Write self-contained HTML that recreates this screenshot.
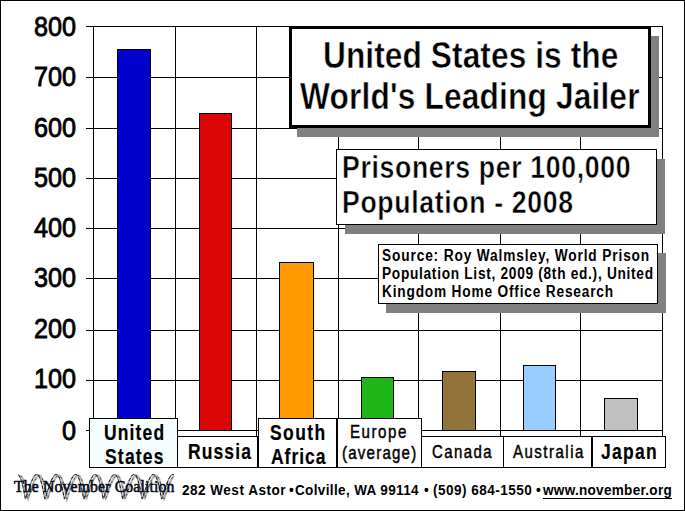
<!DOCTYPE html>
<html><head><meta charset="utf-8"><style>
html,body{margin:0;padding:0;}
body{width:685px;height:511px;position:relative;overflow:hidden;background:#fff;}
body>div,body>svg{position:absolute;box-sizing:content-box;}
</style></head><body>
<div style="left:86px;top:26px;width:577px;height:1px;background:#000"></div>
<div style="left:86px;top:77px;width:577px;height:1px;background:#000"></div>
<div style="left:86px;top:128px;width:577px;height:1px;background:#000"></div>
<div style="left:86px;top:178px;width:577px;height:1px;background:#000"></div>
<div style="left:86px;top:228px;width:577px;height:1px;background:#000"></div>
<div style="left:86px;top:278px;width:577px;height:1px;background:#000"></div>
<div style="left:86px;top:330px;width:577px;height:1px;background:#000"></div>
<div style="left:86px;top:380px;width:577px;height:1px;background:#000"></div>
<div style="left:86px;top:430px;width:577px;height:1px;background:#000"></div>
<div style="left:93px;top:26px;width:1px;height:411px;background:#000"></div>
<div style="left:175px;top:26px;width:1px;height:411px;background:#000"></div>
<div style="left:256px;top:26px;width:1px;height:411px;background:#000"></div>
<div style="left:338px;top:26px;width:1px;height:411px;background:#000"></div>
<div style="left:418px;top:26px;width:1px;height:411px;background:#000"></div>
<div style="left:500px;top:26px;width:1px;height:411px;background:#000"></div>
<div style="left:580px;top:26px;width:1px;height:411px;background:#000"></div>
<div style="left:662px;top:26px;width:1px;height:411px;background:#000"></div>
<div style="left:117px;top:49px;width:32px;height:380px;border:1px solid #000;background:#0000cc"></div>
<div style="left:199px;top:113px;width:31px;height:316px;border:1px solid #000;background:#dd0606"></div>
<div style="left:279px;top:262px;width:33px;height:167px;border:1px solid #000;background:#ff9900"></div>
<div style="left:361px;top:377px;width:31px;height:52px;border:1px solid #000;background:#20b516"></div>
<div style="left:442px;top:371px;width:32px;height:58px;border:1px solid #000;background:#92743a"></div>
<div style="left:523px;top:365px;width:31px;height:64px;border:1px solid #000;background:#99ccff"></div>
<div style="left:604px;top:398px;width:32px;height:31px;border:1px solid #000;background:#c0c0c0"></div>
<div style="left:297px;top:36px;width:362px;height:101px;background:#808080"></div>
<div style="left:289px;top:26px;width:356px;height:96px;border:3px solid #000;background:#fff"></div>
<div style="left:322.74px;top:36.50px;font-family:'Liberation Sans', sans-serif;font-size:36px;font-weight:bold;line-height:36px;white-space:nowrap;-webkit-text-stroke:0.5px #fff;transform:scale(0.8800,1.0300);transform-origin:0 0;letter-spacing:0.079px;">United States is the</div>
<div style="left:299.62px;top:78.00px;font-family:'Liberation Sans', sans-serif;font-size:36px;font-weight:bold;line-height:36px;white-space:nowrap;-webkit-text-stroke:0.5px #fff;transform:scale(0.8800,1.0300);transform-origin:0 0;letter-spacing:0.179px;">World's Leading Jailer</div>
<div style="left:345px;top:159px;width:320px;height:75px;background:#808080"></div>
<div style="left:336px;top:149px;width:319px;height:74px;border:1px solid #000;background:#fff"></div>
<div style="left:342.22px;top:152.10px;font-family:'Liberation Sans', sans-serif;font-size:31.7px;font-weight:bold;line-height:31.7px;white-space:nowrap;-webkit-text-stroke:0.5px #fff;transform:scale(0.8400,1.0000);transform-origin:0 0;letter-spacing:0.794px;">Prisoners per 100,000</div>
<div style="left:342.32px;top:187.00px;font-family:'Liberation Sans', sans-serif;font-size:31.7px;font-weight:bold;line-height:31.7px;white-space:nowrap;-webkit-text-stroke:0.5px #fff;transform:scale(0.8400,1.0000);transform-origin:0 0;letter-spacing:0.792px;">Population - 2008</div>
<div style="left:386px;top:253px;width:280px;height:60px;background:#808080"></div>
<div style="left:378px;top:244px;width:278px;height:58px;border:1px solid #000;background:#fff"></div>
<div style="left:382.04px;top:248.00px;font-family:'Liberation Sans', sans-serif;font-size:16px;font-weight:bold;line-height:16px;white-space:nowrap;transform:scale(0.8550,1.0000);transform-origin:0 0;letter-spacing:1.019px;">Source: Roy Walmsley, World Prison</div>
<div style="left:382.04px;top:265.80px;font-family:'Liberation Sans', sans-serif;font-size:16px;font-weight:bold;line-height:16px;white-space:nowrap;transform:scale(0.8550,1.0000);transform-origin:0 0;letter-spacing:0.832px;">Population List, 2009 (8th ed.), United</div>
<div style="left:382.04px;top:283.60px;font-family:'Liberation Sans', sans-serif;font-size:16px;font-weight:bold;line-height:16px;white-space:nowrap;transform:scale(0.8550,1.0000);transform-origin:0 0;letter-spacing:0.955px;">Kingdom Home Office Research</div>
<div style="left:89px;top:418px;width:87px;height:48px;border:1px solid #000;background:#f6fdff"></div>
<div style="left:177px;top:436px;width:79px;height:30px;border:1px solid #000;background:#fff"></div>
<div style="left:258px;top:418px;width:77px;height:48px;border:1px solid #000;background:#fff"></div>
<div style="left:337px;top:418px;width:83px;height:48px;border:1px solid #000;background:#fff"></div>
<div style="left:421px;top:436px;width:81px;height:30px;border:1px solid #000;background:#fff"></div>
<div style="left:503px;top:436px;width:87px;height:30px;border:1px solid #000;background:#fff"></div>
<div style="left:592px;top:436px;width:72px;height:30px;border:1px solid #000;background:#fff"></div>
<div style="left:104.08px;top:422.60px;font-family:'Liberation Sans', sans-serif;font-size:21.3px;font-weight:bold;line-height:21.3px;white-space:nowrap;-webkit-text-stroke:0.2px #000;transform:scale(0.8200,1.0000);transform-origin:0 0;letter-spacing:1.395px;">United</div>
<div style="left:105.38px;top:446.50px;font-family:'Liberation Sans', sans-serif;font-size:21.3px;font-weight:bold;line-height:21.3px;white-space:nowrap;-webkit-text-stroke:0.2px #000;transform:scale(0.8200,1.0000);transform-origin:0 0;letter-spacing:1.478px;">States</div>
<div style="left:187.98px;top:441.90px;font-family:'Liberation Sans', sans-serif;font-size:21.3px;font-weight:bold;line-height:21.3px;white-space:nowrap;-webkit-text-stroke:0.2px #000;transform:scale(0.8200,1.0000);transform-origin:0 0;letter-spacing:1.371px;">Russia</div>
<div style="left:269.98px;top:422.60px;font-family:'Liberation Sans', sans-serif;font-size:21.3px;font-weight:bold;line-height:21.3px;white-space:nowrap;-webkit-text-stroke:0.2px #000;transform:scale(0.8200,1.0000);transform-origin:0 0;letter-spacing:1.720px;">South</div>
<div style="left:271.00px;top:446.60px;font-family:'Liberation Sans', sans-serif;font-size:21.3px;font-weight:bold;line-height:21.3px;white-space:nowrap;-webkit-text-stroke:0.2px #000;transform:scale(0.8200,1.0000);transform-origin:0 0;letter-spacing:1.215px;">Africa</div>
<div style="left:350.08px;top:423.00px;font-family:'Liberation Sans', sans-serif;font-size:18.4px;font-weight:normal;line-height:18.4px;white-space:nowrap;-webkit-text-stroke:0.45px #000;transform:scale(0.8200,1.0000);transform-origin:0 0;letter-spacing:1.888px;">Europe</div>
<div style="left:342.18px;top:443.90px;font-family:'Liberation Sans', sans-serif;font-size:18.4px;font-weight:normal;line-height:18.4px;white-space:nowrap;-webkit-text-stroke:0.45px #000;transform:scale(0.8200,1.0000);transform-origin:0 0;letter-spacing:1.473px;">(average)</div>
<div style="left:432.08px;top:442.60px;font-family:'Liberation Sans', sans-serif;font-size:18.3px;font-weight:normal;line-height:18.3px;white-space:nowrap;-webkit-text-stroke:0.45px #000;transform:scale(0.8200,1.0000);transform-origin:0 0;letter-spacing:1.717px;">Canada</div>
<div style="left:512.90px;top:442.80px;font-family:'Liberation Sans', sans-serif;font-size:18.3px;font-weight:normal;line-height:18.3px;white-space:nowrap;-webkit-text-stroke:0.45px #000;transform:scale(0.8200,1.0000);transform-origin:0 0;letter-spacing:1.838px;">Australia</div>
<div style="left:601.10px;top:441.70px;font-family:'Liberation Sans', sans-serif;font-size:21.3px;font-weight:bold;line-height:21.3px;white-space:nowrap;-webkit-text-stroke:0.2px #000;transform:scale(0.8200,1.0000);transform-origin:0 0;letter-spacing:1.549px;">Japan</div>
<div style="left:33.90px;top:12.55px;font-family:'Liberation Sans', sans-serif;font-size:28.0px;font-weight:normal;line-height:28.0px;white-space:nowrap;-webkit-text-stroke:0.85px #000;transform:scaleX(0.9000);transform-origin:0 0;">800</div>
<div style="left:33.90px;top:62.50px;font-family:'Liberation Sans', sans-serif;font-size:28.0px;font-weight:normal;line-height:28.0px;white-space:nowrap;-webkit-text-stroke:0.85px #000;transform:scaleX(0.9000);transform-origin:0 0;">700</div>
<div style="left:33.90px;top:113.50px;font-family:'Liberation Sans', sans-serif;font-size:28.0px;font-weight:normal;line-height:28.0px;white-space:nowrap;-webkit-text-stroke:0.85px #000;transform:scaleX(0.9000);transform-origin:0 0;">600</div>
<div style="left:33.90px;top:164.40px;font-family:'Liberation Sans', sans-serif;font-size:28.0px;font-weight:normal;line-height:28.0px;white-space:nowrap;-webkit-text-stroke:0.85px #000;transform:scaleX(0.9000);transform-origin:0 0;">500</div>
<div style="left:33.90px;top:214.30px;font-family:'Liberation Sans', sans-serif;font-size:28.0px;font-weight:normal;line-height:28.0px;white-space:nowrap;-webkit-text-stroke:0.85px #000;transform:scaleX(0.9000);transform-origin:0 0;">400</div>
<div style="left:33.90px;top:264.25px;font-family:'Liberation Sans', sans-serif;font-size:28.0px;font-weight:normal;line-height:28.0px;white-space:nowrap;-webkit-text-stroke:0.85px #000;transform:scaleX(0.9000);transform-origin:0 0;">300</div>
<div style="left:33.90px;top:314.90px;font-family:'Liberation Sans', sans-serif;font-size:28.0px;font-weight:normal;line-height:28.0px;white-space:nowrap;-webkit-text-stroke:0.85px #000;transform:scaleX(0.9000);transform-origin:0 0;">200</div>
<div style="left:33.90px;top:365.40px;font-family:'Liberation Sans', sans-serif;font-size:28.0px;font-weight:normal;line-height:28.0px;white-space:nowrap;-webkit-text-stroke:0.85px #000;transform:scaleX(0.9000);transform-origin:0 0;">100</div>
<div style="left:61.80px;top:416.80px;font-family:'Liberation Sans', sans-serif;font-size:28.0px;font-weight:normal;line-height:28.0px;white-space:nowrap;-webkit-text-stroke:0.85px #000;transform:scaleX(0.9000);transform-origin:0 0;">0</div>
<div style="left:181.80px;top:483.00px;font-family:'Liberation Sans', sans-serif;font-size:14.1px;font-weight:bold;line-height:14.1px;white-space:nowrap;transform:scale(0.9600,1.0000);transform-origin:0 0;letter-spacing:0.516px;">282 West Astor</div>
<div style="left:288.90px;top:483.00px;font-family:'Liberation Sans', sans-serif;font-size:14.1px;font-weight:bold;line-height:14.1px;white-space:nowrap;transform:scale(0.9600,1.0000);transform-origin:0 0;letter-spacing:0.000px;">&bull;</div>
<div style="left:294.74px;top:483.00px;font-family:'Liberation Sans', sans-serif;font-size:14.1px;font-weight:bold;line-height:14.1px;white-space:nowrap;transform:scale(0.9600,1.0000);transform-origin:0 0;letter-spacing:0.366px;">Colville, WA 99114</div>
<div style="left:424.00px;top:483.00px;font-family:'Liberation Sans', sans-serif;font-size:14.1px;font-weight:bold;line-height:14.1px;white-space:nowrap;transform:scale(0.9600,1.0000);transform-origin:0 0;letter-spacing:0.000px;">&bull;</div>
<div style="left:432.64px;top:483.00px;font-family:'Liberation Sans', sans-serif;font-size:14.1px;font-weight:bold;line-height:14.1px;white-space:nowrap;transform:scale(0.9600,1.0000);transform-origin:0 0;letter-spacing:0.505px;">(509) 684-1550</div>
<div style="left:535.70px;top:483.00px;font-family:'Liberation Sans', sans-serif;font-size:14.1px;font-weight:bold;line-height:14.1px;white-space:nowrap;transform:scale(0.9600,1.0000);transform-origin:0 0;letter-spacing:0.000px;">&bull;</div>
<div style="left:542.80px;top:483.00px;font-family:'Liberation Sans', sans-serif;font-size:14.1px;font-weight:bold;line-height:14.1px;white-space:nowrap;transform:scale(0.9600,1.0000);transform-origin:0 0;letter-spacing:0.306px;"><u style="text-underline-offset:3px">www.november.org</u></div>
<svg style="left:0;top:0" width="685" height="511" viewBox="0 0 685 511"><path d="M20.6,475.8 L21.0,476.1 L21.4,476.4 L21.7,476.9 L22.1,477.4 L22.4,478.0 L22.8,478.7 L23.1,479.5 L23.4,480.3 L23.8,481.3 L24.1,482.3 L24.4,483.3 L24.7,484.4 L25.0,485.6 L25.4,486.8 L25.7,488.1 L26.0,489.4 L26.3,490.7 L26.6,492.1 L26.9,493.5 L27.2,495.0 L27.5,496.4 L27.8,497.9 L28.1,498.7 L28.6,497.2 L29.0,495.8 L29.5,494.3 L30.0,492.9 L30.5,491.5 L30.9,490.2 L31.4,488.8 L31.8,487.5 L32.3,486.3 L32.8,485.1 L33.2,483.9 L33.7,482.8 L34.1,481.8 L34.5,480.9 L35.0,480.0 L35.4,479.1 L35.8,478.4 L36.3,477.7 L36.7,477.2 L37.1,476.7 L37.5,476.3 L37.9,475.9 L38.3,475.7 L38.7,475.6 L39.1,475.5 L39.5,475.5 L39.9,475.7 L40.2,475.9 L40.6,476.2 L41.0,476.6 L41.3,477.1 L41.7,477.6 L42.0,478.3 L42.3,479.0 L42.7,479.8 L43.0,480.7 L43.3,481.6 L43.7,482.6 L44.0,483.7 L44.3,484.8 L44.6,486.0 L44.9,487.3 L45.2,488.6 L45.5,489.9 L45.8,491.2 L46.1,492.6 L46.4,494.1 L46.7,495.5 L47.0,496.9 L47.3,498.4 L47.7,498.2 L48.2,496.7 L48.7,495.3 L49.1,493.8 L49.6,492.4 L50.1,491.0 L50.5,489.7 L51.0,488.3 L51.5,487.1 L51.9,485.8 L52.4,484.7 L52.8,483.5 L53.3,482.5 L53.7,481.5 L54.2,480.5 L54.6,479.7 L55.0,478.9 L55.5,478.2 L55.9,477.5 L56.3,477.0 L56.7,476.5 L57.1,476.1 L57.5,475.8 L57.9,475.6 L58.3,475.5 L58.7,475.5 L59.1,475.6 L59.4,475.7 L59.8,476.0 L60.2,476.3 L60.5,476.7 L60.9,477.3 L61.2,477.8 L61.6,478.5 L61.9,479.3 L62.3,480.1 L62.6,481.0 L62.9,482.0 L63.2,483.0 L63.5,484.1 L63.9,485.3 L64.2,486.5 L64.5,487.7 L64.8,489.0 L65.1,490.4 L65.4,491.8 L65.7,493.2 L66.0,494.6 L66.3,496.0 L66.6,497.5 L66.9,498.9 L67.3,497.6 L67.8,496.2 L68.3,494.7 L68.8,493.3 L69.2,491.9 L69.7,490.5 L70.2,489.2 L70.6,487.9 L71.1,486.6 L71.5,485.4 L72.0,484.2 L72.4,483.1 L72.9,482.1 L73.3,481.1 L73.8,480.2 L74.2,479.4 L74.6,478.6 L75.1,477.9 L75.5,477.3 L75.9,476.8 L76.3,476.4 L76.7,476.0 L77.1,475.8 L77.5,475.6 L77.9,475.5 L78.3,475.5 L78.7,475.6 L79.0,475.8 L79.4,476.1 L79.8,476.5 L80.1,476.9 L80.5,477.5 L80.8,478.1 L81.2,478.8 L81.5,479.6 L81.8,480.4 L82.2,481.4 L82.5,482.4 L82.8,483.4 L83.1,484.5 L83.4,485.7 L83.7,486.9 L84.0,488.2 L84.4,489.5 L84.7,490.9 L85.0,492.3 L85.3,493.7 L85.6,495.1 L85.9,496.5 L86.1,498.0 L86.5,498.5 L87.0,497.1 L87.4,495.6 L87.9,494.2 L88.4,492.8 L88.8,491.4 L89.3,490.0 L89.8,488.7 L90.2,487.4 L90.7,486.2 L91.2,485.0 L91.6,483.8 L92.1,482.7 L92.5,481.7 L92.9,480.8 L93.4,479.9 L93.8,479.1 L94.2,478.3 L94.7,477.7 L95.1,477.1 L95.5,476.6 L95.9,476.2 L96.3,475.9 L96.7,475.7 L97.1,475.5 L97.5,475.5 L97.9,475.5 L98.2,475.7 L98.6,475.9 L99.0,476.2 L99.3,476.6 L99.7,477.1 L100.0,477.7 L100.4,478.3 L100.7,479.1 L101.1,479.9 L101.4,480.8 L101.7,481.7 L102.0,482.7 L102.4,483.8 L102.7,485.0 L103.0,486.2 L103.3,487.4 L103.6,488.7 L103.9,490.0 L104.2,491.4 L104.5,492.8 L104.8,494.2 L105.1,495.6 L105.4,497.1 L105.7,498.5 L106.1,498.0 L106.6,496.5 L107.1,495.1 L107.5,493.7 L108.0,492.3 L108.5,490.9 L108.9,489.5 L109.4,488.2 L109.9,486.9 L110.3,485.7 L110.8,484.5 L111.2,483.4 L111.7,482.4 L112.1,481.4 L112.6,480.4 L113.0,479.6 L113.4,478.8 L113.8,478.1 L114.3,477.5 L114.7,476.9 L115.1,476.5 L115.5,476.1 L115.9,475.8 L116.3,475.6 L116.7,475.5 L117.1,475.5 L117.5,475.6 L117.8,475.8 L118.2,476.0 L118.6,476.4 L118.9,476.8 L119.3,477.3 L119.6,477.9 L120.0,478.6 L120.3,479.4 L120.6,480.2 L121.0,481.1 L121.3,482.1 L121.6,483.1 L121.9,484.2 L122.2,485.4 L122.6,486.6 L122.9,487.9 L123.2,489.2 L123.5,490.5 L123.8,491.9 L124.1,493.3 L124.4,494.7 L124.7,496.2 L125.0,497.6 L125.3,498.9 L125.7,497.5 L126.2,496.0 L126.7,494.6 L127.2,493.2 L127.6,491.8 L128.1,490.4 L128.6,489.0 L129.0,487.7 L129.5,486.5 L129.9,485.3 L130.4,484.1 L130.8,483.0 L131.3,482.0 L131.7,481.0 L132.2,480.1 L132.6,479.3 L133.0,478.5 L133.5,477.8 L133.9,477.3 L134.3,476.7 L134.7,476.3 L135.1,476.0 L135.5,475.7 L135.9,475.6 L136.3,475.5 L136.7,475.5 L137.0,475.6 L137.4,475.8 L137.8,476.1 L138.1,476.5 L138.5,477.0 L138.9,477.5 L139.2,478.2 L139.5,478.9 L139.9,479.7 L140.2,480.5 L140.5,481.5 L140.9,482.5 L141.2,483.5 L141.5,484.7 L141.8,485.8 L142.1,487.1 L142.4,488.3 L142.7,489.7 L143.0,491.0 L143.3,492.4 L143.6,493.8 L143.9,495.3 L144.2,496.7 L144.5,498.2 L144.9,498.4 L145.4,496.9 L145.8,495.5 L146.3,494.1 L146.8,492.6 L147.2,491.2 L147.7,489.9 L148.2,488.6 L148.6,487.3 L149.1,486.0 L149.6,484.8 L150.0,483.7 L150.5,482.6 L150.9,481.6 L151.3,480.7 L151.8,479.8 L152.2,479.0 L152.6,478.3 L153.1,477.6 L153.5,477.1 L153.9,476.6 L154.3,476.2 L154.7,475.9 L155.1,475.7 L155.5,475.5 L155.9,475.5 L156.3,475.6 L156.6,475.7 L157.0,475.9 L157.4,476.3 L157.7,476.7 L158.1,477.2 L158.4,477.7 L158.8,478.4 L159.1,479.1 L159.4,480.0 L159.8,480.9 L160.1,481.8 L160.4,482.8 L160.7,483.9 L161.1,485.1 L161.4,486.3 L161.7,487.5 L162.0,488.8 L162.3,490.2 L162.6,491.5 L162.9,492.9 L163.2,494.3 L163.5,495.8 L163.8,497.2 L164.1,498.7 L164.5,497.9 L165.0,496.4 L165.5,495.0 L165.9,493.5 L166.4,492.1 L166.9,490.7 L167.3,489.4 L167.8,488.1 L168.3,486.8 L168.7,485.6 L169.2,484.4 L169.6,483.3 L170.1,482.3 L170.5,481.3 L170.9,480.3 L171.4,479.5 L171.8,478.7 L172.2,478.0 L172.7,477.4 L173.1,476.9 L173.5,476.4 L173.9,476.1 L174.3,475.8" fill="none" stroke="#b8b8b8" stroke-width="2.2"/><path d="M18.2,474.8 L18.6,475.1 L19.0,475.5 L19.3,476.0 L19.7,476.6 L20.0,477.2 L20.4,478.0 L20.7,478.8 L21.0,479.7 L21.4,480.7 L21.7,481.8 L22.0,483.0 L22.3,484.2 L22.6,485.4 L23.0,486.8 L23.3,488.2 L23.6,489.6 L23.9,491.0 L24.2,492.5 L24.5,494.0 L24.8,495.6 L25.1,497.1 L25.4,498.7 L25.7,498.7 L26.2,497.1 L26.7,495.6 L27.2,494.0 L27.7,492.5 L28.1,491.0 L28.6,489.6 L29.1,488.2 L29.6,486.8 L30.0,485.4 L30.5,484.2 L31.0,483.0 L31.4,481.8 L31.9,480.7 L32.3,479.7 L32.8,478.8 L33.2,478.0 L33.6,477.2 L34.1,476.6 L34.5,476.0 L34.9,475.5 L35.3,475.1 L35.7,474.8 L36.1,474.6 L36.5,474.5 L36.9,474.5 L37.3,474.6 L37.7,474.8 L38.1,475.1 L38.4,475.5 L38.8,476.0 L39.1,476.6 L39.5,477.2 L39.8,478.0 L40.2,478.8 L40.5,479.7 L40.8,480.7 L41.1,481.8 L41.5,483.0 L41.8,484.2 L42.1,485.4 L42.4,486.8 L42.7,488.2 L43.0,489.6 L43.3,491.0 L43.6,492.5 L43.9,494.0 L44.2,495.6 L44.5,497.1 L44.8,498.7 L45.2,498.7 L45.7,497.1 L46.2,495.6 L46.6,494.0 L47.1,492.5 L47.6,491.0 L48.1,489.6 L48.5,488.2 L49.0,486.8 L49.5,485.4 L50.0,484.2 L50.4,483.0 L50.9,481.8 L51.3,480.7 L51.8,479.7 L52.2,478.8 L52.7,478.0 L53.1,477.2 L53.5,476.6 L53.9,476.0 L54.4,475.5 L54.8,475.1 L55.2,474.8 L55.6,474.6 L56.0,474.5 L56.4,474.5 L56.8,474.6 L57.1,474.8 L57.5,475.1 L57.9,475.5 L58.2,476.0 L58.6,476.6 L58.9,477.2 L59.3,478.0 L59.6,478.8 L59.9,479.7 L60.3,480.7 L60.6,481.8 L60.9,483.0 L61.2,484.2 L61.5,485.4 L61.9,486.8 L62.2,488.2 L62.5,489.6 L62.8,491.0 L63.1,492.5 L63.4,494.0 L63.7,495.6 L64.0,497.1 L64.3,498.7 L64.6,498.7 L65.1,497.1 L65.6,495.6 L66.1,494.0 L66.6,492.5 L67.0,491.0 L67.5,489.6 L68.0,488.2 L68.5,486.8 L68.9,485.4 L69.4,484.2 L69.9,483.0 L70.3,481.8 L70.8,480.7 L71.2,479.7 L71.7,478.8 L72.1,478.0 L72.5,477.2 L73.0,476.6 L73.4,476.0 L73.8,475.5 L74.2,475.1 L74.6,474.8 L75.0,474.6 L75.4,474.5 L75.8,474.5 L76.2,474.6 L76.6,474.8 L77.0,475.1 L77.3,475.5 L77.7,476.0 L78.0,476.6 L78.4,477.2 L78.7,478.0 L79.1,478.8 L79.4,479.7 L79.7,480.7 L80.0,481.8 L80.4,483.0 L80.7,484.2 L81.0,485.4 L81.3,486.8 L81.6,488.2 L81.9,489.6 L82.2,491.0 L82.5,492.5 L82.8,494.0 L83.1,495.6 L83.4,497.1 L83.7,498.7 L84.1,498.7 L84.6,497.1 L85.1,495.6 L85.5,494.0 L86.0,492.5 L86.5,491.0 L87.0,489.6 L87.4,488.2 L87.9,486.8 L88.4,485.4 L88.9,484.2 L89.3,483.0 L89.8,481.8 L90.2,480.7 L90.7,479.7 L91.1,478.8 L91.6,478.0 L92.0,477.2 L92.4,476.6 L92.8,476.0 L93.3,475.5 L93.7,475.1 L94.1,474.8 L94.5,474.6 L94.9,474.5 L95.3,474.5 L95.7,474.6 L96.0,474.8 L96.4,475.1 L96.8,475.5 L97.1,476.0 L97.5,476.6 L97.8,477.2 L98.2,478.0 L98.5,478.8 L98.8,479.7 L99.2,480.7 L99.5,481.8 L99.8,483.0 L100.1,484.2 L100.4,485.4 L100.8,486.8 L101.1,488.2 L101.4,489.6 L101.7,491.0 L102.0,492.5 L102.3,494.0 L102.6,495.6 L102.9,497.1 L103.2,498.7 L103.5,498.7 L104.0,497.1 L104.5,495.6 L105.0,494.0 L105.5,492.5 L105.9,491.0 L106.4,489.6 L106.9,488.2 L107.4,486.8 L107.8,485.4 L108.3,484.2 L108.8,483.0 L109.2,481.8 L109.7,480.7 L110.1,479.7 L110.6,478.8 L111.0,478.0 L111.4,477.2 L111.9,476.6 L112.3,476.0 L112.7,475.5 L113.1,475.1 L113.5,474.8 L113.9,474.6 L114.3,474.5 L114.7,474.5 L115.1,474.6 L115.5,474.8 L115.9,475.1 L116.2,475.5 L116.6,476.0 L116.9,476.6 L117.3,477.2 L117.6,478.0 L118.0,478.8 L118.3,479.7 L118.6,480.7 L118.9,481.8 L119.3,483.0 L119.6,484.2 L119.9,485.4 L120.2,486.8 L120.5,488.2 L120.8,489.6 L121.1,491.0 L121.4,492.5 L121.7,494.0 L122.0,495.6 L122.3,497.1 L122.6,498.7 L123.0,498.7 L123.5,497.1 L124.0,495.6 L124.4,494.0 L124.9,492.5 L125.4,491.0 L125.9,489.6 L126.3,488.2 L126.8,486.8 L127.3,485.4 L127.8,484.2 L128.2,483.0 L128.7,481.8 L129.1,480.7 L129.6,479.7 L130.0,478.8 L130.5,478.0 L130.9,477.2 L131.3,476.6 L131.7,476.0 L132.2,475.5 L132.6,475.1 L133.0,474.8 L133.4,474.6 L133.8,474.5 L134.2,474.5 L134.6,474.6 L134.9,474.8 L135.3,475.1 L135.7,475.5 L136.0,476.0 L136.4,476.6 L136.7,477.2 L137.1,478.0 L137.4,478.8 L137.7,479.7 L138.1,480.7 L138.4,481.8 L138.7,483.0 L139.0,484.2 L139.3,485.4 L139.7,486.8 L140.0,488.2 L140.3,489.6 L140.6,491.0 L140.9,492.5 L141.2,494.0 L141.5,495.6 L141.8,497.1 L142.1,498.7 L142.4,498.7 L142.9,497.1 L143.4,495.6 L143.9,494.0 L144.4,492.5 L144.8,491.0 L145.3,489.6 L145.8,488.2 L146.3,486.8 L146.7,485.4 L147.2,484.2 L147.7,483.0 L148.1,481.8 L148.6,480.7 L149.0,479.7 L149.5,478.8 L149.9,478.0 L150.3,477.2 L150.8,476.6 L151.2,476.0 L151.6,475.5 L152.0,475.1 L152.4,474.8 L152.8,474.6 L153.2,474.5 L153.6,474.5 L154.0,474.6 L154.4,474.8 L154.8,475.1 L155.1,475.5 L155.5,476.0 L155.8,476.6 L156.2,477.2 L156.5,478.0 L156.9,478.8 L157.2,479.7 L157.5,480.7 L157.8,481.8 L158.2,483.0 L158.5,484.2 L158.8,485.4 L159.1,486.8 L159.4,488.2 L159.7,489.6 L160.0,491.0 L160.3,492.5 L160.6,494.0 L160.9,495.6 L161.2,497.1 L161.5,498.7 L161.9,498.7 L162.4,497.1 L162.9,495.6 L163.3,494.0 L163.8,492.5 L164.3,491.0 L164.8,489.6 L165.2,488.2 L165.7,486.8 L166.2,485.4 L166.7,484.2 L167.1,483.0 L167.6,481.8 L168.0,480.7 L168.5,479.7 L168.9,478.8 L169.4,478.0 L169.8,477.2 L170.2,476.6 L170.6,476.0 L171.1,475.5 L171.5,475.1 L171.9,474.8 L172.3,474.6 L172.7,474.5 L173.1,474.5 L173.5,474.6 L173.8,474.8" fill="none" stroke="#8a8a8a" stroke-width="1.2"/><path d="M18.2,474.8 L18.6,475.1 L19.0,475.5 L19.3,476.0 L19.7,476.6 L20.0,477.2 L20.4,478.0 L20.7,478.8 L21.0,479.7 L21.4,480.7 L21.7,481.8 L22.0,483.0 L22.3,484.2 L22.6,485.4 L23.0,486.8 L23.3,488.2 L23.6,489.6 L23.9,491.0 L24.2,492.5 L24.5,494.0 L24.8,495.6 L25.1,497.1 L25.4,498.7 L25.7,498.7 L26.2,497.1 L26.7,495.6 L27.2,494.0 L27.7,492.5 L28.1,491.0 L28.6,489.6 L29.1,488.2 L29.6,486.8 L30.0,485.4 L30.5,484.2 L31.0,483.0 L31.4,481.8 L31.9,480.7 L32.3,479.7 L32.8,478.8 L33.2,478.0 L33.6,477.2 L34.1,476.6 L34.5,476.0 L34.9,475.5 L35.3,475.1 L35.7,474.8 L36.1,474.6 L36.5,474.5 L36.9,474.5 L37.3,474.6 L37.7,474.8 L38.1,475.1 L38.4,475.5 L38.8,476.0 L39.1,476.6 L39.5,477.2 L39.8,478.0 L40.2,478.8 L40.5,479.7 L40.8,480.7 L41.1,481.8 L41.5,483.0 L41.8,484.2 L42.1,485.4 L42.4,486.8 L42.7,488.2 L43.0,489.6 L43.3,491.0 L43.6,492.5 L43.9,494.0 L44.2,495.6 L44.5,497.1 L44.8,498.7 L45.2,498.7 L45.7,497.1 L46.2,495.6 L46.6,494.0 L47.1,492.5 L47.6,491.0 L48.1,489.6 L48.5,488.2 L49.0,486.8 L49.5,485.4 L50.0,484.2 L50.4,483.0 L50.9,481.8 L51.3,480.7 L51.8,479.7 L52.2,478.8 L52.7,478.0 L53.1,477.2 L53.5,476.6 L53.9,476.0 L54.4,475.5 L54.8,475.1 L55.2,474.8 L55.6,474.6 L56.0,474.5 L56.4,474.5 L56.8,474.6 L57.1,474.8 L57.5,475.1 L57.9,475.5 L58.2,476.0 L58.6,476.6 L58.9,477.2 L59.3,478.0 L59.6,478.8 L59.9,479.7 L60.3,480.7 L60.6,481.8 L60.9,483.0 L61.2,484.2 L61.5,485.4 L61.9,486.8 L62.2,488.2 L62.5,489.6 L62.8,491.0 L63.1,492.5 L63.4,494.0 L63.7,495.6 L64.0,497.1 L64.3,498.7 L64.6,498.7 L65.1,497.1 L65.6,495.6 L66.1,494.0 L66.6,492.5 L67.0,491.0 L67.5,489.6 L68.0,488.2 L68.5,486.8 L68.9,485.4 L69.4,484.2 L69.9,483.0 L70.3,481.8 L70.8,480.7 L71.2,479.7 L71.7,478.8 L72.1,478.0 L72.5,477.2 L73.0,476.6 L73.4,476.0 L73.8,475.5 L74.2,475.1 L74.6,474.8 L75.0,474.6 L75.4,474.5 L75.8,474.5 L76.2,474.6 L76.6,474.8 L77.0,475.1 L77.3,475.5 L77.7,476.0 L78.0,476.6 L78.4,477.2 L78.7,478.0 L79.1,478.8 L79.4,479.7 L79.7,480.7 L80.0,481.8 L80.4,483.0 L80.7,484.2 L81.0,485.4 L81.3,486.8 L81.6,488.2 L81.9,489.6 L82.2,491.0 L82.5,492.5 L82.8,494.0 L83.1,495.6 L83.4,497.1 L83.7,498.7 L84.1,498.7 L84.6,497.1 L85.1,495.6 L85.5,494.0 L86.0,492.5 L86.5,491.0 L87.0,489.6 L87.4,488.2 L87.9,486.8 L88.4,485.4 L88.9,484.2 L89.3,483.0 L89.8,481.8 L90.2,480.7 L90.7,479.7 L91.1,478.8 L91.6,478.0 L92.0,477.2 L92.4,476.6 L92.8,476.0 L93.3,475.5 L93.7,475.1 L94.1,474.8 L94.5,474.6 L94.9,474.5 L95.3,474.5 L95.7,474.6 L96.0,474.8 L96.4,475.1 L96.8,475.5 L97.1,476.0 L97.5,476.6 L97.8,477.2 L98.2,478.0 L98.5,478.8 L98.8,479.7 L99.2,480.7 L99.5,481.8 L99.8,483.0 L100.1,484.2 L100.4,485.4 L100.8,486.8 L101.1,488.2 L101.4,489.6 L101.7,491.0 L102.0,492.5 L102.3,494.0 L102.6,495.6 L102.9,497.1 L103.2,498.7 L103.5,498.7 L104.0,497.1 L104.5,495.6 L105.0,494.0 L105.5,492.5 L105.9,491.0 L106.4,489.6 L106.9,488.2 L107.4,486.8 L107.8,485.4 L108.3,484.2 L108.8,483.0 L109.2,481.8 L109.7,480.7 L110.1,479.7 L110.6,478.8 L111.0,478.0 L111.4,477.2 L111.9,476.6 L112.3,476.0 L112.7,475.5 L113.1,475.1 L113.5,474.8 L113.9,474.6 L114.3,474.5 L114.7,474.5 L115.1,474.6 L115.5,474.8 L115.9,475.1 L116.2,475.5 L116.6,476.0 L116.9,476.6 L117.3,477.2 L117.6,478.0 L118.0,478.8 L118.3,479.7 L118.6,480.7 L118.9,481.8 L119.3,483.0 L119.6,484.2 L119.9,485.4 L120.2,486.8 L120.5,488.2 L120.8,489.6 L121.1,491.0 L121.4,492.5 L121.7,494.0 L122.0,495.6 L122.3,497.1 L122.6,498.7 L123.0,498.7 L123.5,497.1 L124.0,495.6 L124.4,494.0 L124.9,492.5 L125.4,491.0 L125.9,489.6 L126.3,488.2 L126.8,486.8 L127.3,485.4 L127.8,484.2 L128.2,483.0 L128.7,481.8 L129.1,480.7 L129.6,479.7 L130.0,478.8 L130.5,478.0 L130.9,477.2 L131.3,476.6 L131.7,476.0 L132.2,475.5 L132.6,475.1 L133.0,474.8 L133.4,474.6 L133.8,474.5 L134.2,474.5 L134.6,474.6 L134.9,474.8 L135.3,475.1 L135.7,475.5 L136.0,476.0 L136.4,476.6 L136.7,477.2 L137.1,478.0 L137.4,478.8 L137.7,479.7 L138.1,480.7 L138.4,481.8 L138.7,483.0 L139.0,484.2 L139.3,485.4 L139.7,486.8 L140.0,488.2 L140.3,489.6 L140.6,491.0 L140.9,492.5 L141.2,494.0 L141.5,495.6 L141.8,497.1 L142.1,498.7 L142.4,498.7 L142.9,497.1 L143.4,495.6 L143.9,494.0 L144.4,492.5 L144.8,491.0 L145.3,489.6 L145.8,488.2 L146.3,486.8 L146.7,485.4 L147.2,484.2 L147.7,483.0 L148.1,481.8 L148.6,480.7 L149.0,479.7 L149.5,478.8 L149.9,478.0 L150.3,477.2 L150.8,476.6 L151.2,476.0 L151.6,475.5 L152.0,475.1 L152.4,474.8 L152.8,474.6 L153.2,474.5 L153.6,474.5 L154.0,474.6 L154.4,474.8 L154.8,475.1 L155.1,475.5 L155.5,476.0 L155.8,476.6 L156.2,477.2 L156.5,478.0 L156.9,478.8 L157.2,479.7 L157.5,480.7 L157.8,481.8 L158.2,483.0 L158.5,484.2 L158.8,485.4 L159.1,486.8 L159.4,488.2 L159.7,489.6 L160.0,491.0 L160.3,492.5 L160.6,494.0 L160.9,495.6 L161.2,497.1 L161.5,498.7 L161.9,498.7 L162.4,497.1 L162.9,495.6 L163.3,494.0 L163.8,492.5 L164.3,491.0 L164.8,489.6 L165.2,488.2 L165.7,486.8 L166.2,485.4 L166.7,484.2 L167.1,483.0 L167.6,481.8 L168.0,480.7 L168.5,479.7 L168.9,478.8 L169.4,478.0 L169.8,477.2 L170.2,476.6 L170.6,476.0 L171.1,475.5 L171.5,475.1 L171.9,474.8 L172.3,474.6 L172.7,474.5 L173.1,474.5 L173.5,474.6 L173.8,474.8" fill="none" stroke="#111" stroke-width="1.0" stroke-dasharray="3 2.5"/><path d="M20.6,475.8 L21.0,476.1 L21.4,476.4 L21.7,476.9 L22.1,477.4 L22.4,478.0 L22.8,478.7 L23.1,479.5 L23.4,480.3 L23.8,481.3 L24.1,482.3 L24.4,483.3 L24.7,484.4 L25.0,485.6 L25.4,486.8 L25.7,488.1 L26.0,489.4 L26.3,490.7 L26.6,492.1 L26.9,493.5 L27.2,495.0 L27.5,496.4 L27.8,497.9 L28.1,498.7 L28.6,497.2 L29.0,495.8 L29.5,494.3 L30.0,492.9 L30.5,491.5 L30.9,490.2 L31.4,488.8 L31.8,487.5 L32.3,486.3 L32.8,485.1 L33.2,483.9 L33.7,482.8 L34.1,481.8 L34.5,480.9 L35.0,480.0 L35.4,479.1 L35.8,478.4 L36.3,477.7 L36.7,477.2 L37.1,476.7 L37.5,476.3 L37.9,475.9 L38.3,475.7 L38.7,475.6 L39.1,475.5 L39.5,475.5 L39.9,475.7 L40.2,475.9 L40.6,476.2 L41.0,476.6 L41.3,477.1 L41.7,477.6 L42.0,478.3 L42.3,479.0 L42.7,479.8 L43.0,480.7 L43.3,481.6 L43.7,482.6 L44.0,483.7 L44.3,484.8 L44.6,486.0 L44.9,487.3 L45.2,488.6 L45.5,489.9 L45.8,491.2 L46.1,492.6 L46.4,494.1 L46.7,495.5 L47.0,496.9 L47.3,498.4 L47.7,498.2 L48.2,496.7 L48.7,495.3 L49.1,493.8 L49.6,492.4 L50.1,491.0 L50.5,489.7 L51.0,488.3 L51.5,487.1 L51.9,485.8 L52.4,484.7 L52.8,483.5 L53.3,482.5 L53.7,481.5 L54.2,480.5 L54.6,479.7 L55.0,478.9 L55.5,478.2 L55.9,477.5 L56.3,477.0 L56.7,476.5 L57.1,476.1 L57.5,475.8 L57.9,475.6 L58.3,475.5 L58.7,475.5 L59.1,475.6 L59.4,475.7 L59.8,476.0 L60.2,476.3 L60.5,476.7 L60.9,477.3 L61.2,477.8 L61.6,478.5 L61.9,479.3 L62.3,480.1 L62.6,481.0 L62.9,482.0 L63.2,483.0 L63.5,484.1 L63.9,485.3 L64.2,486.5 L64.5,487.7 L64.8,489.0 L65.1,490.4 L65.4,491.8 L65.7,493.2 L66.0,494.6 L66.3,496.0 L66.6,497.5 L66.9,498.9 L67.3,497.6 L67.8,496.2 L68.3,494.7 L68.8,493.3 L69.2,491.9 L69.7,490.5 L70.2,489.2 L70.6,487.9 L71.1,486.6 L71.5,485.4 L72.0,484.2 L72.4,483.1 L72.9,482.1 L73.3,481.1 L73.8,480.2 L74.2,479.4 L74.6,478.6 L75.1,477.9 L75.5,477.3 L75.9,476.8 L76.3,476.4 L76.7,476.0 L77.1,475.8 L77.5,475.6 L77.9,475.5 L78.3,475.5 L78.7,475.6 L79.0,475.8 L79.4,476.1 L79.8,476.5 L80.1,476.9 L80.5,477.5 L80.8,478.1 L81.2,478.8 L81.5,479.6 L81.8,480.4 L82.2,481.4 L82.5,482.4 L82.8,483.4 L83.1,484.5 L83.4,485.7 L83.7,486.9 L84.0,488.2 L84.4,489.5 L84.7,490.9 L85.0,492.3 L85.3,493.7 L85.6,495.1 L85.9,496.5 L86.1,498.0 L86.5,498.5 L87.0,497.1 L87.4,495.6 L87.9,494.2 L88.4,492.8 L88.8,491.4 L89.3,490.0 L89.8,488.7 L90.2,487.4 L90.7,486.2 L91.2,485.0 L91.6,483.8 L92.1,482.7 L92.5,481.7 L92.9,480.8 L93.4,479.9 L93.8,479.1 L94.2,478.3 L94.7,477.7 L95.1,477.1 L95.5,476.6 L95.9,476.2 L96.3,475.9 L96.7,475.7 L97.1,475.5 L97.5,475.5 L97.9,475.5 L98.2,475.7 L98.6,475.9 L99.0,476.2 L99.3,476.6 L99.7,477.1 L100.0,477.7 L100.4,478.3 L100.7,479.1 L101.1,479.9 L101.4,480.8 L101.7,481.7 L102.0,482.7 L102.4,483.8 L102.7,485.0 L103.0,486.2 L103.3,487.4 L103.6,488.7 L103.9,490.0 L104.2,491.4 L104.5,492.8 L104.8,494.2 L105.1,495.6 L105.4,497.1 L105.7,498.5 L106.1,498.0 L106.6,496.5 L107.1,495.1 L107.5,493.7 L108.0,492.3 L108.5,490.9 L108.9,489.5 L109.4,488.2 L109.9,486.9 L110.3,485.7 L110.8,484.5 L111.2,483.4 L111.7,482.4 L112.1,481.4 L112.6,480.4 L113.0,479.6 L113.4,478.8 L113.8,478.1 L114.3,477.5 L114.7,476.9 L115.1,476.5 L115.5,476.1 L115.9,475.8 L116.3,475.6 L116.7,475.5 L117.1,475.5 L117.5,475.6 L117.8,475.8 L118.2,476.0 L118.6,476.4 L118.9,476.8 L119.3,477.3 L119.6,477.9 L120.0,478.6 L120.3,479.4 L120.6,480.2 L121.0,481.1 L121.3,482.1 L121.6,483.1 L121.9,484.2 L122.2,485.4 L122.6,486.6 L122.9,487.9 L123.2,489.2 L123.5,490.5 L123.8,491.9 L124.1,493.3 L124.4,494.7 L124.7,496.2 L125.0,497.6 L125.3,498.9 L125.7,497.5 L126.2,496.0 L126.7,494.6 L127.2,493.2 L127.6,491.8 L128.1,490.4 L128.6,489.0 L129.0,487.7 L129.5,486.5 L129.9,485.3 L130.4,484.1 L130.8,483.0 L131.3,482.0 L131.7,481.0 L132.2,480.1 L132.6,479.3 L133.0,478.5 L133.5,477.8 L133.9,477.3 L134.3,476.7 L134.7,476.3 L135.1,476.0 L135.5,475.7 L135.9,475.6 L136.3,475.5 L136.7,475.5 L137.0,475.6 L137.4,475.8 L137.8,476.1 L138.1,476.5 L138.5,477.0 L138.9,477.5 L139.2,478.2 L139.5,478.9 L139.9,479.7 L140.2,480.5 L140.5,481.5 L140.9,482.5 L141.2,483.5 L141.5,484.7 L141.8,485.8 L142.1,487.1 L142.4,488.3 L142.7,489.7 L143.0,491.0 L143.3,492.4 L143.6,493.8 L143.9,495.3 L144.2,496.7 L144.5,498.2 L144.9,498.4 L145.4,496.9 L145.8,495.5 L146.3,494.1 L146.8,492.6 L147.2,491.2 L147.7,489.9 L148.2,488.6 L148.6,487.3 L149.1,486.0 L149.6,484.8 L150.0,483.7 L150.5,482.6 L150.9,481.6 L151.3,480.7 L151.8,479.8 L152.2,479.0 L152.6,478.3 L153.1,477.6 L153.5,477.1 L153.9,476.6 L154.3,476.2 L154.7,475.9 L155.1,475.7 L155.5,475.5 L155.9,475.5 L156.3,475.6 L156.6,475.7 L157.0,475.9 L157.4,476.3 L157.7,476.7 L158.1,477.2 L158.4,477.7 L158.8,478.4 L159.1,479.1 L159.4,480.0 L159.8,480.9 L160.1,481.8 L160.4,482.8 L160.7,483.9 L161.1,485.1 L161.4,486.3 L161.7,487.5 L162.0,488.8 L162.3,490.2 L162.6,491.5 L162.9,492.9 L163.2,494.3 L163.5,495.8 L163.8,497.2 L164.1,498.7 L164.5,497.9 L165.0,496.4 L165.5,495.0 L165.9,493.5 L166.4,492.1 L166.9,490.7 L167.3,489.4 L167.8,488.1 L168.3,486.8 L168.7,485.6 L169.2,484.4 L169.6,483.3 L170.1,482.3 L170.5,481.3 L170.9,480.3 L171.4,479.5 L171.8,478.7 L172.2,478.0 L172.7,477.4 L173.1,476.9 L173.5,476.4 L173.9,476.1 L174.3,475.8" fill="none" stroke="#222" stroke-width="0.8" stroke-dasharray="2 3.5"/></svg>
<div style="left:13.50px;top:477.70px;font-family:'Liberation Serif', serif;font-size:17.5px;font-weight:normal;line-height:17.5px;white-space:nowrap;color:#050a18;-webkit-text-stroke:0.6px #050a18;transform:scale(0.9000,1.0000);transform-origin:0 0;letter-spacing:0.159px;">The November Coalition</div>
<div style="left:0;top:0;width:683px;height:509px;border:1px solid #000;"></div>
</body></html>
